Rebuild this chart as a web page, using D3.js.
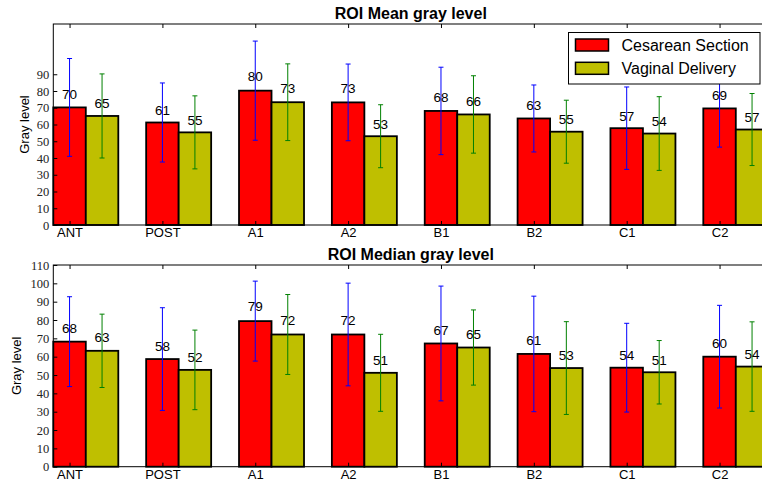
<!DOCTYPE html>
<html>
<head>
<meta charset="utf-8">
<script src="https://cdnjs.cloudflare.com/ajax/libs/d3/7.8.5/d3.min.js"></script>
<style>
  body { margin: 0; background: #fff; }
  svg { display: block; }
</style>
</head>
<body>
<div id="chart"></div>
<script>
var categories = ["ANT", "POST", "A1", "A2", "B1", "B2", "C1", "C2"];
var seriesNames = ["Cesarean Section", "Vaginal Delivery"];

// ROI mean gray level
var meanCS     = [70.2, 61.2, 80.2, 73.2, 68.1, 63.6, 57.8, 69.6];
var meanCSErr  = [29.2, 23.6, 29.6, 22.9, 26.1, 20.0, 24.6, 23.1];
var meanVD     = [65.1, 55.3, 73.3, 53.0, 66.0, 55.7, 54.6, 57.0];
var meanVDErr  = [25.1, 21.8, 22.9, 18.8, 23.1, 18.8, 22.0, 21.5];

// ROI median gray level
var medianCS    = [68.2, 58.7, 79.4, 72.1, 67.2, 61.5, 54.0, 60.0];
var medianCSErr = [24.5, 28.0, 21.8, 28.0, 31.3, 31.5, 24.2, 28.0];
var medianVD    = [63.2, 52.8, 72.1, 51.2, 65.0, 53.8, 51.5, 54.6];
var medianVDErr = [20.0, 21.7, 21.8, 21.0, 20.5, 25.3, 17.3, 24.4];

var meanTicks = [0, 10, 20, 30, 40, 50, 60, 70, 80, 90];
var medianTicks = [0, 10, 20, 30, 40, 50, 60, 70, 80, 90, 100, 110];

var width = 762, height = 485;
var barW = 0.35;
var colors = ["#ff0000", "#bfbf00"];
var errColors = ["#0000ff", "#008000"];
var sans = "'Liberation Sans', Arial, sans-serif";
var serif = "'Liberation Serif', 'Times New Roman', serif";

var svg = d3.select("#chart").append("svg")
  .attr("width", width).attr("height", height);

var x = d3.scaleLinear().domain([0, 7.7]).range([53.3, 768.3]);

function panel(opts) {
  var y = d3.scaleLinear().domain([0, opts.yMax]).range([opts.bottom, opts.top]);
  var g = svg.append("g");
  var tickPos = categories.map(function(c, i) { return i + barW / 2; });

  var groups = [
    { vals: opts.a, errs: opts.aErr, off: 0, k: 0 },
    { vals: opts.b, errs: opts.bErr, off: barW, k: 1 }
  ];

  groups.forEach(function(s) {
    g.append("g").selectAll("rect")
      .data(s.vals).join("rect")
      .attr("x", function(d, i) { return x(i + s.off); })
      .attr("y", function(d) { return y(d); })
      .attr("width", x(barW) - x(0))
      .attr("height", function(d) { return y(0) - y(d); })
      .attr("fill", colors[s.k])
      .attr("stroke", "#000")
      .attr("stroke-width", 1.8);
  });

  // ticks on all sides, pointing inward
  var left = g.append("g").attr("transform", "translate(" + x.range()[0] + ",0)")
    .call(d3.axisLeft(y).tickValues(opts.ticks).tickSize(-4).tickPadding(4));
  left.select(".domain").remove();
  left.selectAll("text").style("font-family", serif).style("font-size", "12.5px").style("fill", "#222");

  var bottomAx = g.append("g").attr("transform", "translate(0," + opts.bottom + ")")
    .call(d3.axisBottom(x).tickValues(tickPos)
      .tickFormat(function(d, i) { return categories[i]; }).tickSize(-4).tickPadding(3));
  bottomAx.select(".domain").remove();
  bottomAx.selectAll("text").style("font-family", sans).style("font-size", "13px").style("fill", "#000");

  var topAx = g.append("g").attr("transform", "translate(0," + opts.top + ")")
    .call(d3.axisTop(x).tickValues(tickPos).tickFormat("").tickSize(-4));
  topAx.select(".domain").remove();

  groups.forEach(function(s) {
    var eg = g.append("g").attr("stroke", errColors[s.k]).attr("stroke-width", 1);
    s.vals.forEach(function(d, i) {
      var cx = x(i + s.off + barW / 2);
      var y1 = y(d + s.errs[i]), y2 = y(d - s.errs[i]);
      eg.append("line").attr("x1", cx).attr("x2", cx).attr("y1", y1).attr("y2", y2);
      eg.append("line").attr("x1", cx - 2.5).attr("x2", cx + 2.5).attr("y1", y1).attr("y2", y1);
      eg.append("line").attr("x1", cx - 2.5).attr("x2", cx + 2.5).attr("y1", y2).attr("y2", y2);
    });
  });

  groups.forEach(function(s) {
    g.append("g").selectAll("text")
      .data(s.vals).join("text")
      .attr("x", function(d, i) { return x(i + s.off + barW / 2); })
      .attr("y", function(d) { return y(1.05 * d) - 2.8; })
      .attr("text-anchor", "middle")
      .style("font-family", sans).style("font-size", "13.5px")
      .text(function(d) { return Math.floor(d); });
  });

  // frame
  g.append("rect")
    .attr("x", x.range()[0]).attr("y", opts.top)
    .attr("width", x.range()[1] - x.range()[0]).attr("height", opts.bottom - opts.top)
    .attr("fill", "none").attr("stroke", "#000").attr("stroke-width", 1);

  g.append("text")
    .attr("x", (x.range()[0] + x.range()[1]) / 2).attr("y", opts.top - 5)
    .attr("text-anchor", "middle")
    .style("font-family", sans).style("font-size", "16px").style("font-weight", "bold")
    .text(opts.title);

  g.append("text")
    .attr("transform", "translate(" + opts.labelX + "," + (opts.top + opts.bottom) / 2 + ") rotate(-90)")
    .attr("text-anchor", "middle")
    .style("font-family", sans).style("font-size", "13px")
    .text("Gray level");

  return g;
}

var meanPanel = panel({
  top: 24, bottom: 225, yMax: 120, ticks: meanTicks,
  a: meanCS, aErr: meanCSErr, b: meanVD, bErr: meanVDErr,
  title: "ROI Mean gray level", labelX: 29
});

panel({
  top: 265, bottom: 466.7, yMax: 110, ticks: medianTicks,
  a: medianCS, aErr: medianCSErr, b: medianVD, bErr: medianVDErr,
  title: "ROI Median gray level", labelX: 21
});

// legend (top panel only)
var legend = meanPanel.append("g");
legend.append("rect")
  .attr("x", 568.5).attr("y", 32.5).attr("width", 191.5).attr("height", 51.5)
  .attr("fill", "#fff").attr("stroke", "#000").attr("stroke-width", 1);
seriesNames.forEach(function(name, i) {
  legend.append("rect")
    .attr("x", 575.5).attr("y", 39 + i * 23.3).attr("width", 33).attr("height", 12)
    .attr("fill", colors[i]).attr("stroke", "#000").attr("stroke-width", 1.5);
  legend.append("text")
    .attr("x", 621.5).attr("y", 51 + i * 23.3)
    .style("font-family", sans).style("font-size", "16px")
    .text(name);
});
</script>
</body>
</html>
